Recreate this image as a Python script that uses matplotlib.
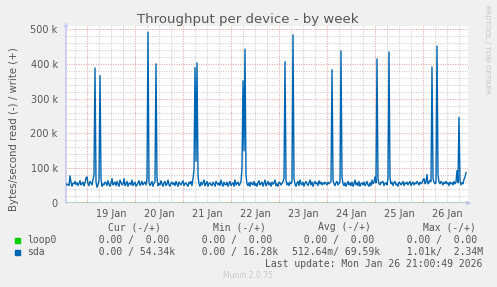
"""Munin style weekly throughput chart (sda / loop0)."""
import matplotlib

matplotlib.use("Agg")
import matplotlib.pyplot as plt
import pandas as pd

# 30 minute samples, starting 2026-01-18 13:30, values in k bytes/s (write, +)
START = "2026-01-18 13:30"
sda_write_k = [
    55, 52, 54, 50, 78, 60, 48, 57, 55, 62, 53, 58, 50, 56, 64, 52, 55, 60, 49, 58,
    72, 75, 55, 50, 62, 58, 52, 68, 80, 388, 60, 45, 52, 66, 366, 70, 48, 55, 52, 60,
    58, 50, 64, 55, 48, 57, 70, 52, 55, 60, 50, 62, 54, 48, 66, 58, 52, 55, 70, 50,
    54, 62, 48, 56, 58, 52, 66, 50, 55, 60, 48, 52, 58, 64, 50, 55, 62, 52, 57, 60,
    52, 70, 491, 58, 50, 55, 62, 48, 57, 60, 400, 72, 50, 56, 52, 64, 55, 48, 58, 62,
    50, 55, 66, 52, 48, 57, 60, 53, 58, 50, 62, 55, 48, 60, 56, 52, 58, 64, 50, 55,
    58, 52, 48, 60, 55, 62, 50, 70, 95, 389, 120, 403, 80, 55, 48, 60, 52, 58, 66, 50,
    55, 62, 48, 56, 58, 52, 50, 60, 55, 48, 62, 57, 52, 58, 50, 66, 55, 48, 60, 53,
    52, 60, 48, 56, 62, 50, 55, 58, 48, 66, 52, 57, 60, 50, 55, 62, 100, 351, 150, 442,
    80, 55, 50, 58, 48, 60, 55, 52, 62, 50, 56, 48, 58, 64, 52, 55, 60, 48, 57, 66,
    50, 55, 62, 52, 58, 48, 60, 54, 57, 66, 50, 55, 48, 60, 58, 52, 56, 62, 70, 406,
    65, 52, 58, 50, 60, 55, 62, 483, 70, 55, 48, 58, 62, 50, 66, 55, 52, 60, 48, 57,
    62, 55, 50, 58, 66, 52, 60, 48, 56, 62, 55, 58, 50, 64, 55, 60, 52, 58, 54, 60,
    56, 52, 60, 55, 58, 62, 383, 66, 55, 50, 58, 62, 52, 57, 60, 437, 75, 55, 50, 58,
    48, 55, 62, 52, 58, 50, 60, 48, 55, 66, 52, 58, 50, 62, 48, 55, 58, 52, 60, 50,
    55, 62, 52, 48, 58, 50, 66, 55, 60, 75, 58, 414, 70, 55, 52, 60, 58, 62, 50, 56,
    58, 52, 70, 434, 72, 55, 60, 50, 58, 62, 52, 55, 48, 60, 58, 52, 56, 62, 50, 58,
    55, 60, 52, 58, 62, 50, 56, 60, 52, 58, 55, 62, 57, 52, 60, 55, 58, 66, 70, 55,
    60, 82, 55, 58, 65, 62, 391, 70, 60, 55, 58, 451, 80, 60, 55, 62, 58, 52, 60, 56,
    62, 55, 58, 50, 60, 55, 58, 52, 62, 55, 60, 93, 58, 246, 65, 52, 58, 55, 68, 75,
    87,
]
loop0_write_k = [0.0] * len(sda_write_k)

day_labels = ["19 Jan", "20 Jan", "21 Jan", "22 Jan", "23 Jan", "24 Jan", "25 Jan", "26 Jan"]
y_ticks = [0, 100000, 200000, 300000, 400000, 500000]
y_labels = ["0", "100 k", "200 k", "300 k", "400 k", "500 k"]

legend_names = ["loop0", "sda"]
legend_colors = ["#00cc00", "#0066b3"]
col_heads = ["Cur (-/+)", "Min (-/+)", "Avg (-/+)", "Max (-/+)"]
legend_rows = [
    ["  0.00 /  0.00 ", "  0.00 /  0.00 ", "  0.00 /  0.00 ", "  0.00 /  0.00 "],
    ["  0.00 / 54.34k", "  0.00 / 16.28k", "512.64m/ 69.59k", "  1.01k/  2.34M"],
]

W, H = 497, 287
TXT = "#555555"
GRID_MINOR = "#cfcfcf"
GRID_MAJOR = "#e8a8a8"
DOTS = (0, (1, 1.2))

times = pd.date_range(START, periods=len(sda_write_k), freq="30min")
sda = pd.Series([v * 1000 for v in sda_write_k], index=times)
loop0 = pd.Series([v * 1000 for v in loop0_write_k], index=times)

fig = plt.figure(figsize=(W / 100, H / 100), dpi=100, facecolor="#f0f0f0")
# plot area: 0 at y=203 px, 500k at y=29 px, a few px of headroom above
ax = fig.add_axes([66 / W, 1 - 203 / H, 402 / W, 177 / H])
ax.set_facecolor("white")

x0 = pd.Timestamp(START)
x1 = x0 + pd.Timedelta(minutes=30 * 402)
ax.set_xlim(x0, x1)
ax.set_ylim(0, 500000 * 177 / 174)

# grid: minor grey every 6h / 20k, major red at midnight / 100k
t = x0.ceil("6h")
while t < x1:
    major = t.hour == 0
    ax.axvline(t, color=GRID_MAJOR if major else GRID_MINOR, linestyle=DOTS,
               linewidth=0.8, zorder=1)
    t += pd.Timedelta(hours=6)
for yv in range(20000, 500001, 20000):
    major = yv % 100000 == 0
    ax.axhline(yv, color=GRID_MAJOR if major else GRID_MINOR, linestyle=DOTS,
               linewidth=0.8, zorder=1)

ax.plot(loop0.index, loop0.values, color=legend_colors[0], linewidth=1.0, zorder=2)
ax.plot(sda.index, sda.values, color=legend_colors[1], linewidth=1.0, zorder=3)
ax.axhline(0, color="#505068", linewidth=1.0, zorder=4)

noons = [pd.Timestamp("2026-01-19 12:00") + pd.Timedelta(days=i) for i in range(len(day_labels))]
ax.set_xticks(noons, day_labels)
ax.set_yticks(y_ticks, y_labels)
ax.tick_params(length=0, labelsize=7, colors=TXT)
ax.tick_params(axis="x", pad=4)
ax.tick_params(axis="y", pad=6)
for s in ["top", "right", "bottom"]:
    ax.spines[s].set_visible(False)
ax.spines["left"].set_color("#c8c8f0")
ax.spines["left"].set_linewidth(1.2)
ax.annotate("", xy=(0, 1.02), xytext=(0, 0.99), xycoords="axes fraction",
            arrowprops=dict(arrowstyle="-|>", color="#c8c8f0", lw=0.8,
                            mutation_scale=6), annotation_clip=False)
ax.annotate("", xy=(1.015, 0), xytext=(0.99, 0), xycoords="axes fraction",
            arrowprops=dict(arrowstyle="-|>", color="#c8c8f0", lw=0.8,
                            mutation_scale=6), annotation_clip=False)

fig.text(14 / W, 1 - 129 / H, "Bytes/second read (-) / write (+)", rotation=90,
         ha="center", va="center", fontsize=7.3, color=TXT)
fig.text(248 / W, 1 - 19 / H, "Throughput per device - by week", ha="center",
         va="center", fontsize=9.5, color=TXT)
fig.text(487 / W, 1 - 5 / H, "RRDTOOL / TOBI OETIKER", rotation=270, ha="center",
         va="top", fontsize=5, color="#c4c4c4")

mono = "DejaVu Sans Mono"
head_x = [134, 239, 344, 449]
col_x = [87, 190, 292, 395]
for hx, h in zip(head_x, col_heads):
    fig.text(hx / W, 1 - 227 / H, h, ha="center", va="center", family=mono,
             fontsize=7, color=TXT)
for r, (name, c, vals) in enumerate(zip(legend_names, legend_colors, legend_rows)):
    yy = 1 - (240 + 12 * r) / H
    fig.patches.append(plt.Rectangle((15 / W, yy - 2.5 / H), 5 / W, 5 / H,
                                     transform=fig.transFigure, color=c, figure=fig))
    fig.text(27 / W, yy, name, ha="left", va="center", family=mono, fontsize=7,
             color=TXT)
    for cx, v in zip(col_x, vals):
        fig.text(cx / W, yy, v, ha="left", va="center", family=mono, fontsize=7,
                 color=TXT)
fig.text(482 / W, 1 - 264 / H, "Last update: Mon Jan 26 21:00:49 2026", ha="right",
         va="center", family=mono, fontsize=7, color=TXT)
fig.text(248 / W, 1 - 276 / H, "Munin 2.0.75", ha="center", va="center",
         fontsize=5.5, color="#c8c8c8")

fig.savefig("out.png", dpi=100, facecolor=fig.get_facecolor())
plt.close(fig)
